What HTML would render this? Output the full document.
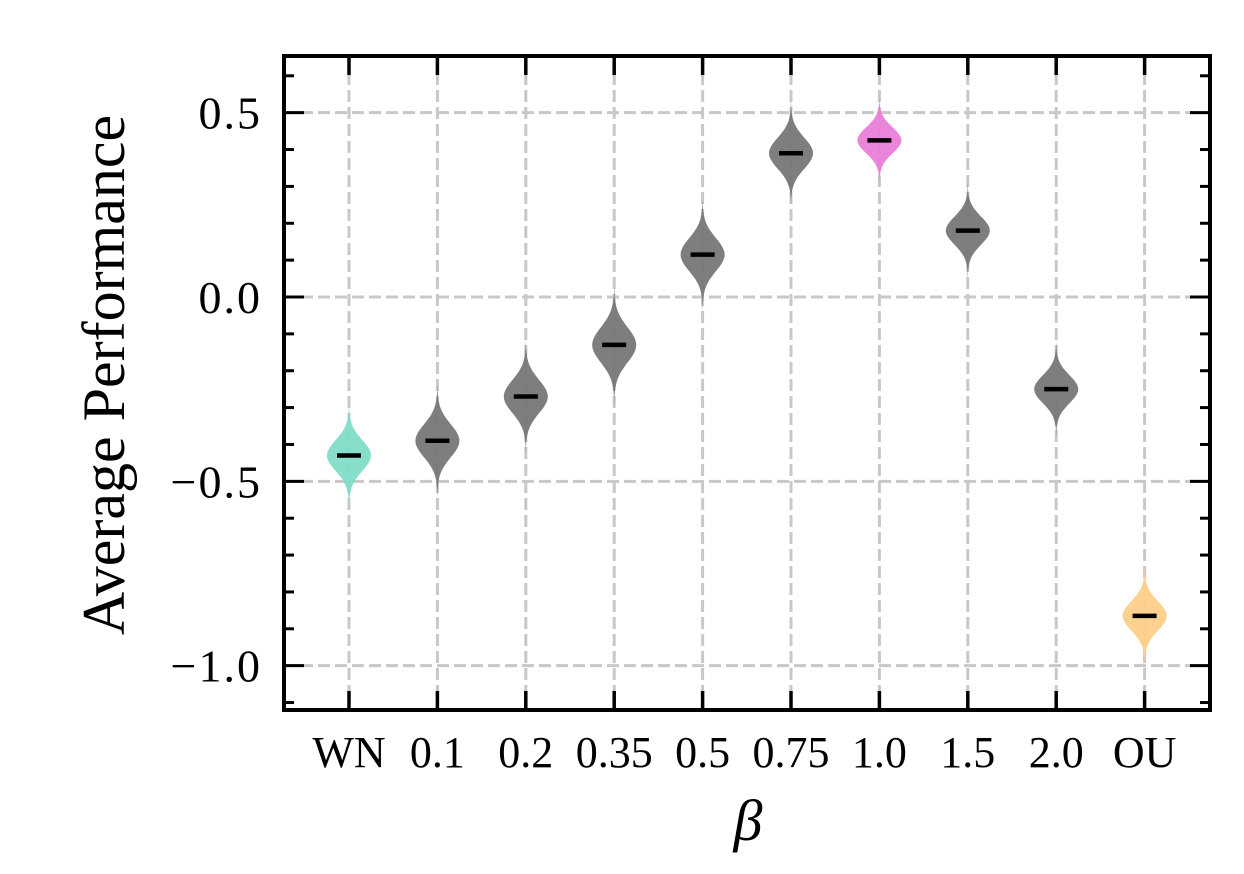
<!DOCTYPE html>
<html><head><meta charset="utf-8"><style>
body{margin:0;background:#fff}
svg{display:block;font-family:"Liberation Serif",serif}
</style></head><body>
<svg id="chart" width="1244" height="874">
<g id="grid"></g>
<g id="violins"></g>
<g id="axes"></g>
<text x="748" y="840" font-size="58" font-style="italic" text-anchor="middle">β</text>
<text transform="translate(124,375) rotate(-90)" font-size="60" text-anchor="middle">Average Performance</text>
</svg>
<script>
const categories=["WN","0.1","0.2","0.35","0.5","0.75","1.0","1.5","2.0","OU"];
const medians=[-0.43,-0.39,-0.27,-0.13,0.115,0.39,0.425,0.18,-0.25,-0.865];
const spreads=[0.042,0.045,0.045,0.048,0.045,0.042,0.035,0.038,0.038,0.04];
const colors=["#7fdcc8","#777777","#777777","#777777","#777777","#777777","#e97fd8","#777777","#777777","#fdd08a"];
const yTicks=[0.5,0,-0.5,-1.0];
const yTickLabels=["0.5","0.0","\u22120.5","\u22121.0"];
const L=284,R=1210,T=56,B=710;
const x=i=>349+88.4*i;
const y=v=>297-v*368.67;
const NS="http://www.w3.org/2000/svg";
function mk(p,tag,a){const e=document.createElementNS(NS,tag);for(const k in a)e.setAttribute(k,a[k]);p.appendChild(e);return e;}
const grid=document.getElementById('grid'),vg=document.getElementById('violins'),ax=document.getElementById('axes');
yTicks.forEach(v=>{const l=mk(grid,'line',{x1:L,x2:R,y1:y(v),y2:y(v),stroke:'#c8c8c8','stroke-width':3,'stroke-dasharray':'12,5'});

});
categories.forEach((c,i)=>{const l=mk(grid,'line',{x1:x(i),x2:x(i),y1:T,y2:B,stroke:'#c8c8c8','stroke-width':3,'stroke-dasharray':'12,5'});

});
categories.forEach((c,i)=>{
  const m=medians[i],s=spreads[i],cx=x(i);
  let left=[],right=[];
  for(let k=-3.3;k<=3.31;k+=0.1){const v=m+k*s;const w=22*Math.exp(-k*k/2);
    right.push((cx+w).toFixed(1)+','+y(v).toFixed(1));left.unshift((cx-w).toFixed(1)+','+y(v).toFixed(1));}
  const p=mk(vg,'path',{d:'M'+right.join('L')+'L'+left.join('L')+'Z',fill:colors[i],'fill-opacity':0.95});
  
  
  const ml=mk(vg,'line',{x1:cx-12,x2:cx+12,y1:y(m),y2:y(m),stroke:'#000','stroke-width':4.5});
  
  
  const t=mk(ax,'text',{x:cx,y:767,'font-size':44,'text-anchor':'middle'});t.textContent=c;
  
  
  mk(ax,'line',{x1:cx,x2:cx,y1:T,y2:T+19,stroke:'#000','stroke-width':3.5});
  mk(ax,'line',{x1:cx,x2:cx,y1:B,y2:B-19,stroke:'#000','stroke-width':3.5});
});
for(let k=-11;k<=6;k++){const v=k/10;const yy=y(v);if(yy<T+2||yy>B-2)continue;
  const major=k%5===0;const len=major?20:10;
  mk(ax,'line',{x1:L,x2:L+len,y1:yy,y2:yy,stroke:'#000','stroke-width':3});
  mk(ax,'line',{x1:R,x2:R-len,y1:yy,y2:yy,stroke:'#000','stroke-width':3});}
yTicks.forEach((v,i)=>{const t=mk(ax,'text',{x:262,y:y(v)+16,'font-size':46,'text-anchor':'end','letter-spacing':2});t.textContent=yTickLabels[i];

});
const fr=mk(ax,'rect',{x:L,y:T,width:R-L,height:B-T,fill:'none',stroke:'#000','stroke-width':4});


</script>
</body></html>
